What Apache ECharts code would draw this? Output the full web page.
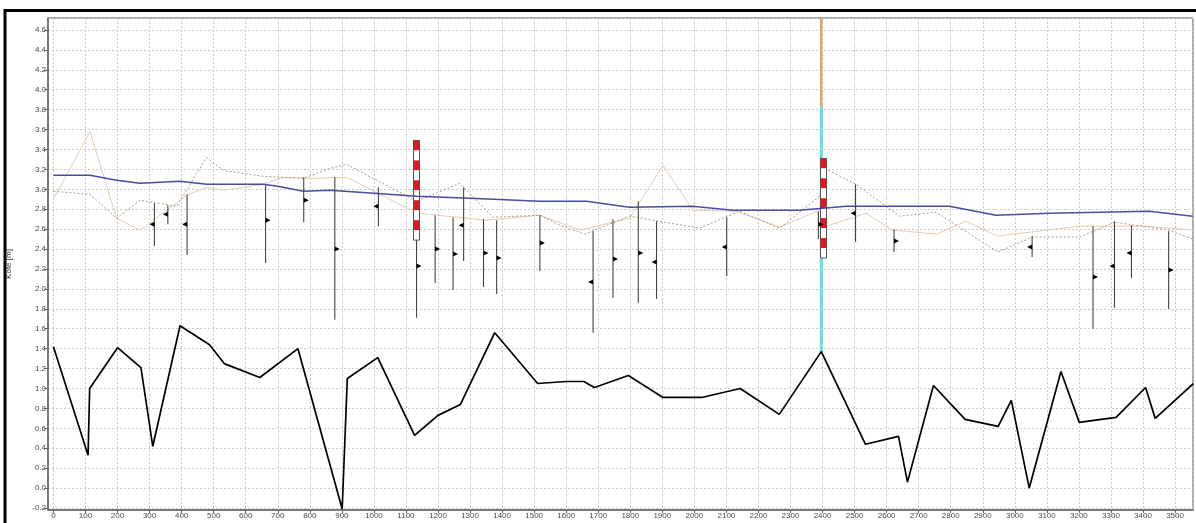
<!DOCTYPE html>
<html>
<head>
<meta charset="utf-8">
<style>
  html, body { margin: 0; padding: 0; background: #fff; }
  #chart { width: 1196px; height: 523px; }
</style>
<script src="https://cdn.jsdelivr.net/npm/echarts@6/dist/echarts.min.js"></script>
</head>
<body>
<div id="chart"></div>
<script>
// Longitudinal profile: chainage [m] against level (Kote) [m]

// Bed / bottom profile (thick black line)
const bedX = [0, 108, 113, 200, 273, 310, 395, 487, 533, 644, 763, 901, 917, 1012, 1127, 1200, 1270, 1377, 1511, 1600, 1655, 1688, 1794, 1902, 2023, 2143, 2265, 2396, 2534, 2637, 2665, 2746, 2845, 2948, 2989, 3045, 3144, 3201, 3316, 3408, 3438, 3557];
const bedY = [1.42, 0.33, 1.00, 1.41, 1.21, 0.42, 1.63, 1.44, 1.25, 1.11, 1.40, -0.21, 1.10, 1.31, 0.53, 0.73, 0.84, 1.56, 1.05, 1.07, 1.07, 1.01, 1.13, 0.91, 0.91, 1.00, 0.74, 1.37, 0.44, 0.52, 0.06, 1.03, 0.69, 0.62, 0.88, 0.00, 1.17, 0.66, 0.71, 1.01, 0.70, 1.05];

// Water level (blue)
const waterX = [0, 114, 197, 270, 395, 478, 655, 700, 780, 863, 1000, 1133, 1300, 1518, 1663, 1798, 1995, 2120, 2328, 2474, 2796, 2941, 3108, 3420, 3555];
const waterY = [3.14, 3.14, 3.09, 3.06, 3.08, 3.05, 3.05, 3.03, 2.98, 2.99, 2.96, 2.93, 2.91, 2.88, 2.88, 2.82, 2.83, 2.79, 2.79, 2.83, 2.83, 2.74, 2.76, 2.78, 2.73];

// Left bank (light tan)
const bankAX = [0, 114, 197, 270, 416, 478, 530, 655, 717, 810, 915, 1134, 1351, 1518, 1643, 1798, 1902, 1996, 2131, 2266, 2391, 2412, 2536, 2619, 2755, 2848, 2946, 3202, 3407, 3555];
const bankAY = [2.90, 3.58, 2.71, 2.59, 2.94, 3.02, 2.99, 3.05, 3.12, 3.11, 3.12, 2.76, 2.69, 2.74, 2.59, 2.71, 3.24, 2.79, 2.78, 2.62, 2.79, 2.63, 2.76, 2.59, 2.55, 2.68, 2.53, 2.63, 2.63, 2.59];

// Right bank (dotted)
const bankBX = [0, 114, 197, 270, 385, 478, 530, 655, 781, 863, 915, 1133, 1268, 1372, 1518, 1580, 1658, 1798, 2016, 2141, 2266, 2391, 2412, 2505, 2640, 2755, 2947, 3055, 3202, 3311, 3482, 3555];
const bankBY = [2.98, 2.95, 2.71, 2.89, 2.83, 3.32, 3.19, 3.13, 3.11, 3.21, 3.25, 2.88, 3.06, 2.72, 2.74, 2.64, 2.55, 2.73, 2.61, 2.78, 2.61, 2.93, 3.20, 3.05, 2.73, 2.77, 2.37, 2.52, 2.52, 2.67, 2.59, 2.50];

// Boreholes / gauges: position, top, bottom, marker level, marker side
const holeX      = [315, 357, 417, 662, 781, 878, 1014, 1133, 1191, 1247, 1280, 1342, 1383, 1518, 1684, 1746, 1825, 1882, 2101, 2387, 2503, 2623, 3054, 3244, 3311, 3364, 3480];
const holeTop    = [2.86, 2.84, 2.95, 3.04, 3.12, 3.12, 3.02, 2.49, 2.74, 2.72, 3.02, 2.70, 2.69, 2.74, 2.58, 2.70, 2.88, 2.68, 2.72, 2.78, 3.05, 2.60, 2.53, 2.63, 2.68, 2.64, 2.58];
const holeBottom = [2.43, 2.65, 2.34, 2.26, 2.67, 1.69, 2.63, 1.71, 2.06, 1.99, 2.28, 2.02, 1.95, 2.18, 1.56, 1.91, 1.86, 1.90, 2.13, 2.50, 2.47, 2.37, 2.32, 1.60, 1.81, 2.11, 1.80];
const holeMark   = [2.65, 2.75, 2.65, 2.69, 2.89, 2.40, 2.83, 2.23, 2.40, 2.35, 2.64, 2.36, 2.31, 2.46, 2.07, 2.30, 2.36, 2.27, 2.42, 2.65, 2.76, 2.48, 2.42, 2.12, 2.23, 2.36, 2.19];
const holeSide   = ['L', 'L', 'L', 'R', 'R', 'R', 'L', 'R', 'R', 'R', 'L', 'R', 'R', 'R', 'L', 'R', 'R', 'L', 'L', 'R', 'L', 'R', 'L', 'R', 'L', 'L', 'R'];

// Levelling staffs (red/white, 0.1 m bands)
const staffX      = [1133, 2403];
const staffBottom = [2.49, 2.31];
const staffTop    = [3.49, 3.31];

// Gauge pole: base, colour change and top
const poleX = 2396;
const poleBase = 1.37;
const poleSplit = 3.83;
const poleTop = 4.72;

const xMin = -17, xMax = 3556;
const yMin = -0.22, yMax = 4.72;

const zip = (xs, ys) => xs.map((x, i) => [x, ys[i]]);

const holeData = holeX.map((x, i) => [x, holeTop[i], holeBottom[i], holeMark[i], holeSide[i] === 'R' ? 1 : -1]);
const staffData = staffX.map((x, i) => [x, staffBottom[i], staffTop[i]]);

const chart = echarts.init(document.getElementById('chart'), null, { renderer: 'canvas' });

const gridLine = { show: true, lineStyle: { color: '#c9c9c9', width: 1, type: [2, 2] } };
const labelFont = { fontFamily: 'Liberation Sans, Arial, sans-serif', fontSize: 8, color: '#4a4a4a' };

chart.setOption({
  animation: false,
  backgroundColor: '#ffffff',
  grid: {
    left: 48, top: 18, right: 3, bottom: 13,
    outerBoundsMode: 'none', containLabel: false,
    show: true, borderColor: '#555', borderWidth: 1, backgroundColor: 'transparent'
  },
  xAxis: {
    type: 'value', min: xMin, max: xMax, splitNumber: 36,
    axisLine: { show: true, onZero: false, lineStyle: { color: '#666', width: 1.5 } },
    axisTick: { show: true, length: 3, lineStyle: { color: '#666' } },
    axisLabel: Object.assign({ margin: 2, showMinLabel: false, showMaxLabel: false, formatter: v => String(Math.round(v)) }, labelFont),
    splitLine: gridLine
  },
  yAxis: {
    type: 'value', min: yMin, max: yMax, splitNumber: 25,
    name: 'Kote [m]', nameLocation: 'middle', nameGap: 35,
    nameTextStyle: { fontFamily: 'Liberation Sans, Arial, sans-serif', fontSize: 8, color: '#333' },
    axisLine: { show: true, onZero: false, lineStyle: { color: '#666', width: 1.5 } },
    axisTick: { show: true, length: 4, lineStyle: { color: '#666' } },
    axisLabel: Object.assign({ margin: 2, showMinLabel: false, showMaxLabel: false, formatter: v => v.toFixed(1) }, labelFont),
    splitLine: gridLine
  },
  graphic: [
    { type: 'line', shape: { x1: 4, y1: 10.5, x2: 1196, y2: 10.5 }, style: { stroke: '#000', lineWidth: 3 }, z: 100 },
    { type: 'line', shape: { x1: 5, y1: 9, x2: 5, y2: 523 }, style: { stroke: '#000', lineWidth: 3 }, z: 100 }
  ],
  series: [
    {
      name: 'Pegel', type: 'line', z: 1, showSymbol: false, silent: true,
      data: [[poleX, poleBase], [poleX, poleSplit]],
      lineStyle: { color: '#5fe3dc', width: 3 }
    },
    {
      name: 'Pegel oben', type: 'line', z: 1, showSymbol: false, silent: true,
      data: [[poleX, poleSplit], [poleX, poleTop]],
      lineStyle: { color: '#e2a56a', width: 2.5 }
    },
    {
      name: 'Ufer links', type: 'line', z: 2, showSymbol: false, silent: true,
      data: zip(bankAX, bankAY),
      lineStyle: { color: '#e4cdb2', width: 1 }
    },
    {
      name: 'Ufer rechts', type: 'line', z: 2, showSymbol: false, silent: true,
      data: zip(bankBX, bankBY),
      lineStyle: { color: '#a89c86', width: 1, type: [2, 2] }
    },
    {
      name: 'Lattenpegel', type: 'custom', z: 3, silent: true,
      data: staffData,
      encode: { x: 0, y: [1, 2] },
      renderItem: (params, api) => {
        const x = api.value(0), bot = api.value(1), top = api.value(2);
        const n = Math.round((top - bot) / 0.1);
        const children = [];
        const w = 6;
        for (let i = 0; i < n; i++) {
          const a = api.coord([x, top - i * 0.1]);
          const b = api.coord([x, top - (i + 1) * 0.1]);
          children.push({
            type: 'rect',
            shape: { x: a[0] - w / 2, y: a[1], width: w, height: b[1] - a[1] },
            style: { fill: i % 2 === 0 ? '#e8131b' : '#ffffff' }
          });
        }
        const t = api.coord([x, top]), bt = api.coord([x, bot]);
        children.push({
          type: 'rect',
          shape: { x: t[0] - w / 2, y: t[1], width: w, height: bt[1] - t[1] },
          style: { fill: null, stroke: '#555', lineWidth: 1 }
        });
        return { type: 'group', children };
      }
    },
    {
      name: 'Wasserspiegel', type: 'line', z: 4, showSymbol: false, silent: true,
      data: zip(waterX, waterY),
      lineStyle: { color: '#4b4ba6', width: 1.5 }
    },
    {
      name: 'Bohrungen', type: 'custom', z: 5, silent: true,
      data: holeData,
      encode: { x: 0, y: [1, 2] },
      renderItem: (params, api) => {
        const x = api.value(0);
        const p1 = api.coord([x, api.value(1)]);
        const p2 = api.coord([x, api.value(2)]);
        const pf = api.coord([x, api.value(3)]);
        const d = api.value(4);
        return {
          type: 'group',
          children: [
            { type: 'line', shape: { x1: p1[0], y1: p1[1], x2: p2[0], y2: p2[1] }, style: { stroke: '#444', lineWidth: 1.1 } },
            { type: 'polygon', shape: { points: [[pf[0], pf[1] - 2.5], [pf[0] + d * 5, pf[1]], [pf[0], pf[1] + 2.5]] }, style: { fill: '#000' } }
          ]
        };
      }
    },
    {
      name: 'Sohle', type: 'line', z: 6, showSymbol: false, silent: true,
      data: zip(bedX, bedY),
      lineStyle: { color: '#000', width: 1.7 }
    }
  ]
});
</script>
</body>
</html>
